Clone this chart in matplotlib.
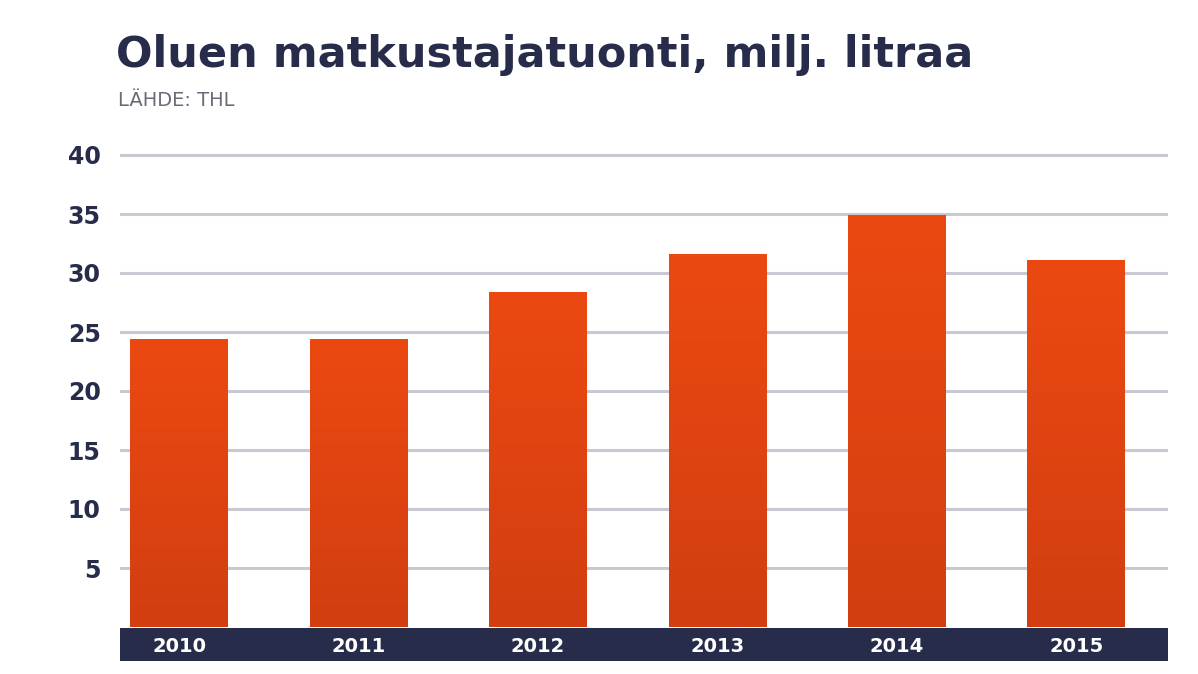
import numpy as np
import matplotlib.pyplot as plt
from matplotlib.patches import Rectangle

years = ["2010", "2011", "2012", "2013", "2014", "2015"]
values = [24.4, 24.4, 28.4, 31.6, 34.9, 31.1]
yticks = [5, 10, 15, 20, 25, 30, 35, 40]

NAVY = "#262c4a"
W, H = 1198, 674
fig = plt.figure(figsize=(W / 100, H / 100), dpi=100)


def px_axes(x0, y0, x1, y1):
    return fig.add_axes([x0 / W, 1 - y1 / H, (x1 - x0) / W, (y1 - y0) / H])


ax = px_axes(120, 100, 1168, 627)
ax.set_xlim(-0.33, 5.51)
ax.set_ylim(0, 40 * 527 / 472)
for t in yticks:
    ax.axhline(t, color="#c9c9d3", lw=2.2, zorder=0)
ax.set_yticks(yticks)
ax.set_yticklabels([str(t) for t in yticks], fontsize=17, fontweight="bold", color=NAVY)
ax.tick_params(axis="y", length=0, pad=14)
ax.set_xticks([])
for s in ax.spines.values():
    s.set_visible(False)

grad = np.linspace(0, 1, 256).reshape(-1, 1)
cmap = plt.matplotlib.colors.LinearSegmentedColormap.from_list("g", ["#d23e10", "#ec4912"])
bw = 0.546
for i, v in enumerate(values):
    rect = Rectangle((i - bw / 2, 0), bw, v, facecolor="none", edgecolor="none")
    ax.add_patch(rect)
    im = ax.imshow(grad, extent=(i - bw / 2, i + bw / 2, 0, v), origin="lower",
                   cmap=cmap, aspect="auto", zorder=2)
    im.set_clip_path(rect)

band = px_axes(120, 628, 1168, 661)
band.set_xlim(-0.33, 5.51)
band.set_ylim(0, 1)
band.set_facecolor(NAVY)
band.set_xticks([])
band.set_yticks([])
for s in band.spines.values():
    s.set_visible(False)
for i, y in enumerate(years):
    band.text(i, 0.45, y, ha="center", va="center", color="white",
              fontsize=14, fontweight="bold")

fig.text(116 / W, 1 - 55 / H, "Oluen matkustajatuonti, milj. litraa", fontsize=31,
         fontweight="bold", color=NAVY, va="center")
fig.text(118 / W, 1 - 100 / H, "LÄHDE: THL", fontsize=14, color="#6b6b78", va="center")

fig.savefig("out.png", dpi=100, facecolor="white")
